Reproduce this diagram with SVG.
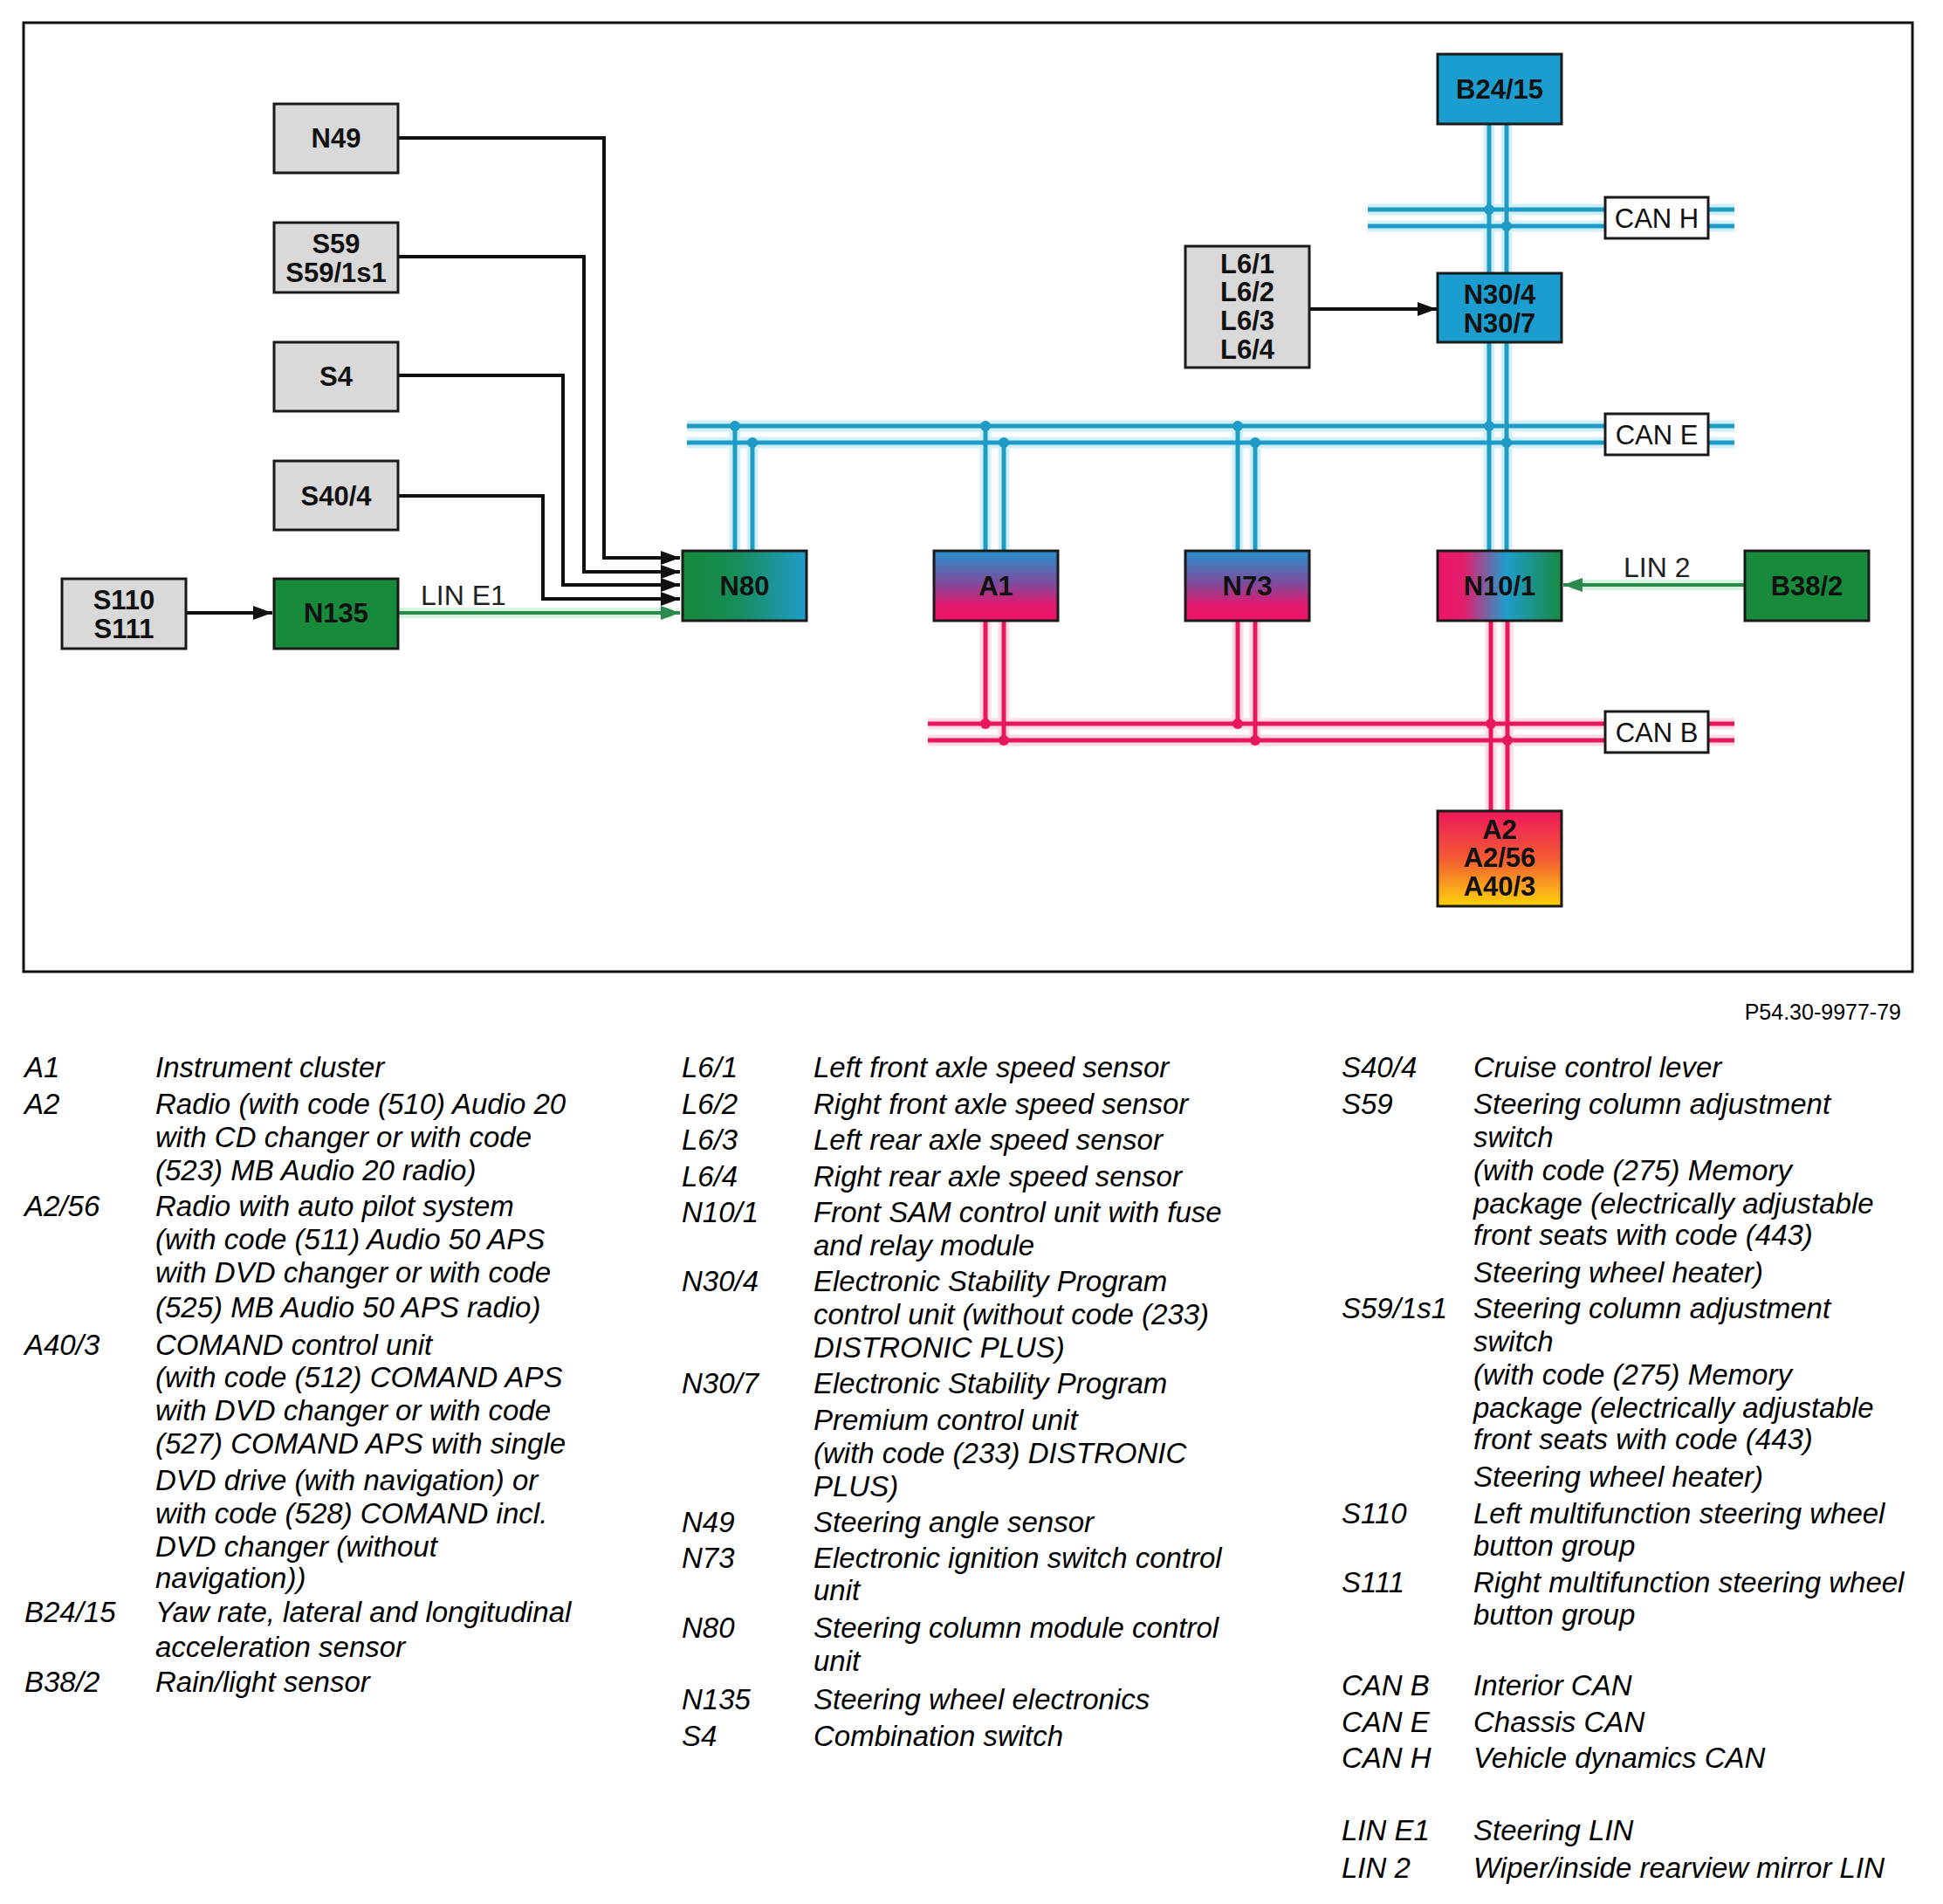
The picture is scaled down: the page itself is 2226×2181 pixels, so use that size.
<svg xmlns="http://www.w3.org/2000/svg" width="2226" height="2181" viewBox="0 0 2226 2181">
<defs>
<style>
.frame{fill:#fff;stroke:#111;stroke-width:3}
.gray{fill:#d9d9d9;stroke:#1a1a1a;stroke-width:3}
.node{stroke:#1a1a1a;stroke-width:3}
.lbl{font-family:"Liberation Sans",Arial,sans-serif;font-weight:bold;font-size:31px;fill:#111;text-anchor:middle}
.canbox{fill:#fff;stroke:#1a1a1a;stroke-width:3}
.cantxt{font-family:"Liberation Sans",Arial,sans-serif;font-size:31px;fill:#111;text-anchor:middle}
.lin{font-family:"Liberation Sans",Arial,sans-serif;font-size:32px;fill:#222}
.wire{fill:none;stroke:#111;stroke-width:4}
.green{fill:none;stroke:#2d8a4e;stroke-width:4}
.greenhalo{fill:none;stroke:#d6f2e0;stroke-width:12}
.blue{fill:none;stroke:#1e9cc6;stroke-width:5}
.bluehalo{fill:none;stroke:#d2f0f9;stroke-width:13}
.pink{fill:none;stroke:#e8175d;stroke-width:5}
.pinkhalo{fill:none;stroke:#fcdbe5;stroke-width:13}
.bdot{fill:#1e9cc6}
.pdot{fill:#e8175d}
.leg{font-family:"Liberation Sans",Arial,sans-serif;font-style:italic;font-size:33px;fill:#000}
.ref{font-family:"Liberation Sans",Arial,sans-serif;font-size:25px;fill:#000;text-anchor:end}
</style>
<marker id="arrB" markerWidth="22" markerHeight="16" refX="22" refY="8" orient="auto" markerUnits="userSpaceOnUse"><path d="M0,0 L22,8 L0,16 z" fill="#111"/></marker>
<marker id="arrG" markerWidth="22" markerHeight="16" refX="22" refY="8" orient="auto" markerUnits="userSpaceOnUse"><path d="M0,0 L22,8 L0,16 z" fill="#2d8a4e"/></marker>
<linearGradient id="gN80" x1="0" y1="0" x2="1" y2="0"><stop offset="0" stop-color="#15893a"/><stop offset="0.45" stop-color="#178d5a"/><stop offset="1" stop-color="#1f9ccb"/></linearGradient>
<linearGradient id="gA1" x1="0" y1="0" x2="0" y2="1"><stop offset="0" stop-color="#2790cc"/><stop offset="0.45" stop-color="#7a4e9e"/><stop offset="0.78" stop-color="#e2186c"/><stop offset="1" stop-color="#ee1462"/></linearGradient>
<linearGradient id="gN10" x1="0" y1="0" x2="1" y2="0"><stop offset="0" stop-color="#ee1464"/><stop offset="0.22" stop-color="#e0206e"/><stop offset="0.55" stop-color="#1f9ccc"/><stop offset="1" stop-color="#178a40"/></linearGradient>
<linearGradient id="gA2" x1="0" y1="0" x2="0" y2="1"><stop offset="0" stop-color="#ee175c"/><stop offset="0.5" stop-color="#f35a32"/><stop offset="0.85" stop-color="#fbb01a"/><stop offset="1" stop-color="#ffd200"/></linearGradient>
</defs>

<rect width="2226" height="2181" fill="#fff"/>
<rect class="frame" x="27" y="26" width="2164" height="1087"/>

<g id="connectors">
  <path class="bluehalo" d="M1567,240 H1987 M1567,259 H1987 M787,488 H1987 M787,507 H1987 M1706,142 V313 M1726,142 V313 M1706,392 V631 M1726,392 V631 M842,488 V631 M862,507 V631 M1129,488 V631 M1150,507 V631 M1418,488 V631 M1438,507 V631"/>
  <path class="pinkhalo" d="M1063,829 H1987 M1063,848 H1987 M1129,711 V829 M1150,711 V848 M1418,711 V829 M1438,711 V848 M1708,711 V929 M1727,711 V929"/>
  <path class="greenhalo" d="M456,702 H770 M1999,670 H1800"/>
  <path class="blue" d="M1567,240 H1987 M1567,259 H1987"/>
  <path class="blue" d="M787,488 H1987 M787,507 H1987"/>
  <path class="pink" d="M1063,829 H1987 M1063,848 H1987"/>
  <path class="blue" d="M1706,142 V313 M1726,142 V313 M1706,392 V631 M1726,392 V631"/>
  <path class="blue" d="M842,488 V631 M862,507 V631"/>
  <path class="blue" d="M1129,488 V631 M1150,507 V631"/>
  <path class="blue" d="M1418,488 V631 M1438,507 V631"/>
  <path class="pink" d="M1129,711 V829 M1150,711 V848"/>
  <path class="pink" d="M1418,711 V829 M1438,711 V848"/>
  <path class="pink" d="M1708,711 V929 M1727,711 V929"/>
  <circle class="bdot" cx="1706" cy="240" r="6"/>
  <circle class="bdot" cx="1726" cy="259" r="6"/>
  <circle class="bdot" cx="842" cy="488" r="6"/>
  <circle class="bdot" cx="862" cy="507" r="6"/>
  <circle class="bdot" cx="1129" cy="488" r="6"/>
  <circle class="bdot" cx="1150" cy="507" r="6"/>
  <circle class="bdot" cx="1418" cy="488" r="6"/>
  <circle class="bdot" cx="1438" cy="507" r="6"/>
  <circle class="bdot" cx="1706" cy="488" r="6"/>
  <circle class="bdot" cx="1726" cy="507" r="6"/>
  <circle class="pdot" cx="1129" cy="829" r="6"/>
  <circle class="pdot" cx="1150" cy="848" r="6"/>
  <circle class="pdot" cx="1418" cy="829" r="6"/>
  <circle class="pdot" cx="1438" cy="848" r="6"/>
  <circle class="pdot" cx="1708" cy="829" r="6"/>
  <circle class="pdot" cx="1727" cy="848" r="6"/>
  <path class="wire" d="M456,158 H692 V639 H779" marker-end="url(#arrB)"/>
  <path class="wire" d="M456,294 H669 V655 H779" marker-end="url(#arrB)"/>
  <path class="wire" d="M456,430 H645 V670 H779" marker-end="url(#arrB)"/>
  <path class="wire" d="M456,568 H622 V686 H779" marker-end="url(#arrB)"/>
  <path class="green" d="M456,702 H779" marker-end="url(#arrG)"/>
  <text class="lin" x="482" y="693">LIN E1</text>
  <path class="wire" d="M213,702 H312" marker-end="url(#arrB)"/>
  <path class="wire" d="M1500,354 H1646" marker-end="url(#arrB)"/>
  <path class="green" d="M1999,670 H1791" marker-end="url(#arrG)"/>
  <text class="lin" x="1860" y="661">LIN 2</text>
</g>

<g id="CAN_H"><rect class="canbox" x="1839" y="226" width="118" height="47"/><text class="cantxt" x="1898" y="261">CAN H</text></g>
<g id="CAN_E"><rect class="canbox" x="1839" y="474" width="118" height="47"/><text class="cantxt" x="1898" y="509">CAN E</text></g>
<g id="CAN_B"><rect class="canbox" x="1839" y="815" width="118" height="47"/><text class="cantxt" x="1898" y="850">CAN B</text></g>

<g id="N49"><rect class="gray" x="314" y="119" width="142" height="79"/><text class="lbl" x="385" y="169">N49</text></g>
<g id="S59"><rect class="gray" x="314" y="255" width="142" height="80"/><text class="lbl" x="385" y="290">S59</text><text class="lbl" x="385" y="323">S59/1s1</text></g>
<g id="S4"><rect class="gray" x="314" y="392" width="142" height="79"/><text class="lbl" x="385" y="442">S4</text></g>
<g id="S40_4"><rect class="gray" x="314" y="528" width="142" height="79"/><text class="lbl" x="385" y="579">S40/4</text></g>
<g id="S110"><rect class="gray" x="71" y="663" width="142" height="80"/><text class="lbl" x="142" y="698">S110</text><text class="lbl" x="142" y="731">S111</text></g>
<g id="N135"><rect class="node" fill="#178a3c" x="314" y="663" width="142" height="80"/><text class="lbl" x="385" y="713">N135</text></g>
<g id="N80"><rect class="node" fill="url(#gN80)" x="782" y="631" width="142" height="80"/><text class="lbl" x="853" y="682">N80</text></g>
<g id="A1"><rect class="node" fill="url(#gA1)" x="1070" y="631" width="142" height="80"/><text class="lbl" x="1141" y="682">A1</text></g>
<g id="N73"><rect class="node" fill="url(#gA1)" x="1358" y="631" width="142" height="80"/><text class="lbl" x="1429" y="682">N73</text></g>
<g id="N10_1"><rect class="node" fill="url(#gN10)" x="1647" y="631" width="142" height="80"/><text class="lbl" x="1718" y="682">N10/1</text></g>
<g id="B38_2"><rect class="node" fill="#178a3c" x="1999" y="631" width="142" height="80"/><text class="lbl" x="2070" y="682">B38/2</text></g>
<g id="B24_15"><rect class="node" fill="#1b9dcf" x="1647" y="62" width="142" height="80"/><text class="lbl" x="1718" y="113">B24/15</text></g>
<g id="N30_4"><rect class="node" fill="#1b9dcf" x="1647" y="313" width="142" height="79"/><text class="lbl" x="1718" y="348">N30/4</text><text class="lbl" x="1718" y="381">N30/7</text></g>
<g id="L6"><rect class="gray" x="1358" y="282" width="142" height="139"/><text class="lbl" x="1429" y="313">L6/1</text><text class="lbl" x="1429" y="345">L6/2</text><text class="lbl" x="1429" y="378">L6/3</text><text class="lbl" x="1429" y="411">L6/4</text></g>
<g id="A2"><rect class="node" fill="url(#gA2)" x="1647" y="929" width="142" height="109"/><text class="lbl" x="1718" y="961">A2</text><text class="lbl" x="1718" y="993">A2/56</text><text class="lbl" x="1718" y="1026">A40/3</text></g>

<text class="ref" x="2178" y="1168">P54.30-9977-79</text>

<g id="legend1" class="leg">
  <text x="28" y="1234">A1</text><text x="178" y="1234">Instrument cluster</text>
  <text x="28" y="1276">A2</text><text x="178" y="1276">Radio (with code (510) Audio 20</text>
  <text x="178" y="1314">with CD changer or with code</text>
  <text x="178" y="1352">(523) MB Audio 20 radio)</text>
  <text x="28" y="1393">A2/56</text><text x="178" y="1393">Radio with auto pilot system</text>
  <text x="178" y="1431">(with code (511) Audio 50 APS</text>
  <text x="178" y="1469">with DVD changer or with code</text>
  <text x="178" y="1509">(525) MB Audio 50 APS radio)</text>
  <text x="28" y="1552">A40/3</text><text x="178" y="1552">COMAND control unit</text>
  <text x="178" y="1589">(with code (512) COMAND APS</text>
  <text x="178" y="1627">with DVD changer or with code</text>
  <text x="178" y="1665">(527) COMAND APS with single</text>
  <text x="178" y="1707">DVD drive (with navigation) or</text>
  <text x="178" y="1745">with code (528) COMAND incl.</text>
  <text x="178" y="1783">DVD changer (without</text>
  <text x="178" y="1819">navigation))</text>
  <text x="28" y="1858">B24/15</text><text x="178" y="1858">Yaw rate, lateral and longitudinal</text>
  <text x="178" y="1898">acceleration sensor</text>
  <text x="28" y="1938">B38/2</text><text x="178" y="1938">Rain/light sensor</text>
</g>

<g id="legend2" class="leg">
  <text x="781" y="1234">L6/1</text><text x="932" y="1234">Left front axle speed sensor</text>
  <text x="781" y="1276">L6/2</text><text x="932" y="1276">Right front axle speed sensor</text>
  <text x="781" y="1317">L6/3</text><text x="932" y="1317">Left rear axle speed sensor</text>
  <text x="781" y="1359">L6/4</text><text x="932" y="1359">Right rear axle speed sensor</text>
  <text x="781" y="1400">N10/1</text><text x="932" y="1400">Front SAM control unit with fuse</text>
  <text x="932" y="1438">and relay module</text>
  <text x="781" y="1479">N30/4</text><text x="932" y="1479">Electronic Stability Program</text>
  <text x="932" y="1517">control unit (without code (233)</text>
  <text x="932" y="1555">DISTRONIC PLUS)</text>
  <text x="781" y="1596">N30/7</text><text x="932" y="1596">Electronic Stability Program</text>
  <text x="932" y="1638">Premium control unit</text>
  <text x="932" y="1676">(with code (233) DISTRONIC</text>
  <text x="932" y="1714">PLUS)</text>
  <text x="781" y="1755">N49</text><text x="932" y="1755">Steering angle sensor</text>
  <text x="781" y="1796">N73</text><text x="932" y="1796">Electronic ignition switch control</text>
  <text x="932" y="1833">unit</text>
  <text x="781" y="1876">N80</text><text x="932" y="1876">Steering column module control</text>
  <text x="932" y="1914">unit</text>
  <text x="781" y="1958">N135</text><text x="932" y="1958">Steering wheel electronics</text>
  <text x="781" y="2000">S4</text><text x="932" y="2000">Combination switch</text>
</g>

<g id="legend3" class="leg">
  <text x="1537" y="1234">S40/4</text><text x="1688" y="1234">Cruise control lever</text>
  <text x="1537" y="1276">S59</text><text x="1688" y="1276">Steering column adjustment</text>
  <text x="1688" y="1314">switch</text>
  <text x="1688" y="1352">(with code (275) Memory</text>
  <text x="1688" y="1390">package (electrically adjustable</text>
  <text x="1688" y="1426">front seats with code (443)</text>
  <text x="1688" y="1469">Steering wheel heater)</text>
  <text x="1537" y="1510">S59/1s1</text><text x="1688" y="1510">Steering column adjustment</text>
  <text x="1688" y="1548">switch</text>
  <text x="1688" y="1586">(with code (275) Memory</text>
  <text x="1688" y="1624">package (electrically adjustable</text>
  <text x="1688" y="1660">front seats with code (443)</text>
  <text x="1688" y="1703">Steering wheel heater)</text>
  <text x="1537" y="1745">S110</text><text x="1688" y="1745">Left multifunction steering wheel</text>
  <text x="1688" y="1782">button group</text>
  <text x="1537" y="1824">S111</text><text x="1688" y="1824">Right multifunction steering wheel</text>
  <text x="1688" y="1861">button group</text>
  <text x="1537" y="1942">CAN B</text><text x="1688" y="1942">Interior CAN</text>
  <text x="1537" y="1984">CAN E</text><text x="1688" y="1984">Chassis CAN</text>
  <text x="1537" y="2025">CAN H</text><text x="1688" y="2025">Vehicle dynamics CAN</text>
  <text x="1537" y="2108">LIN E1</text><text x="1688" y="2108">Steering LIN</text>
  <text x="1537" y="2151">LIN 2</text><text x="1688" y="2151">Wiper/inside rearview mirror LIN</text>
</g>
</svg>
